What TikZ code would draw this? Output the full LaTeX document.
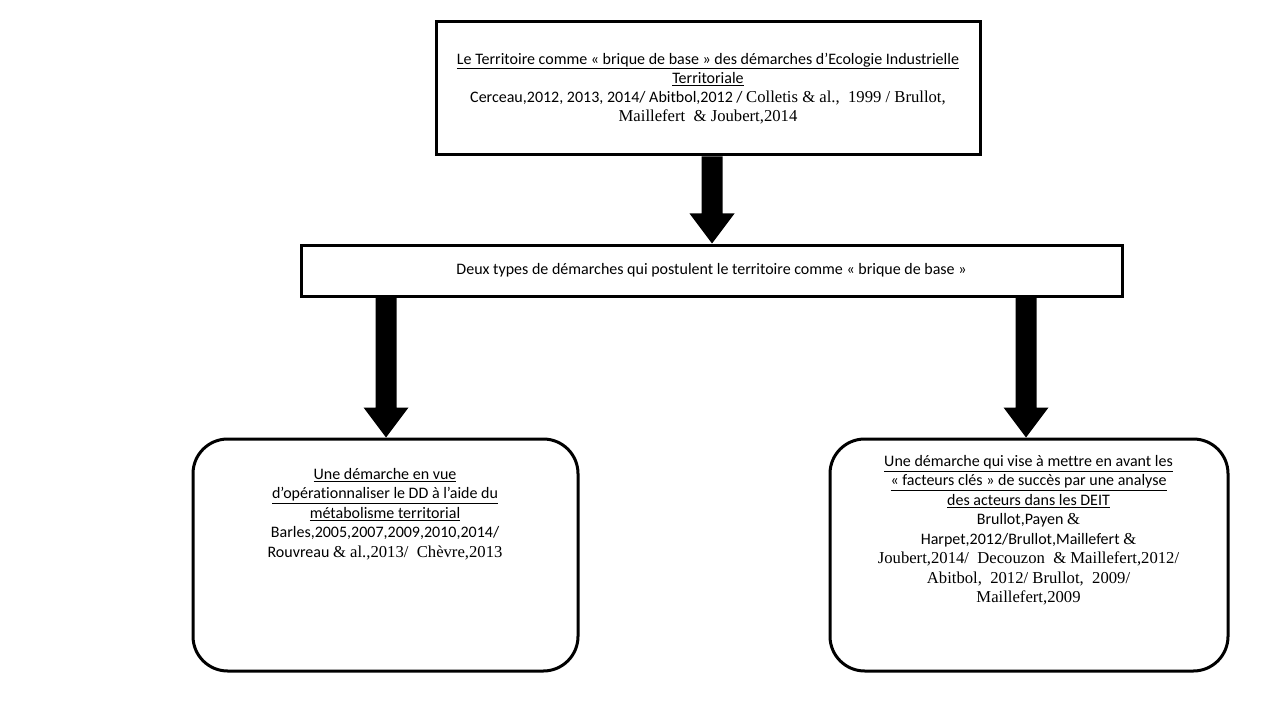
\documentclass[tikz,border=0pt]{standalone}
\usepackage{fontspec}
\setmainfont{Carlito}[Ligatures=NoCommon]
\newfontfamily\tnr{Liberation Serif}
\newcommand\tnrb{\tnr\fontsize{12.5}{14.4}\selectfont}
\usetikzlibrary{calc}
\newcommand\blockarr[2]{%
  \fill[arr] ($(#1)+(-10.5,0)$) -- ($(#1)+(10.5,0)$) -- ($(#2)+(10.5,-30)$) --
    ($(#2)+(22.5,-30)$) -- (#2) -- ($(#2)+(-22.5,-30)$) -- ($(#2)+(-10.5,-30)$) -- cycle;}
\begin{document}
\begin{tikzpicture}[x=0.75pt,y=-0.75pt,
  box/.style={draw=black,line width=2.25pt,inner sep=0pt,align=center,font=\fontsize{12}{14.4}\selectfont},
  rbox/.style={box,rounded corners=26pt},
  txt/.style={align=center,font=\fontsize{12}{14.6}\selectfont,inner sep=0pt},
  arr/.style={fill=black}]
\useasboundingbox (0,0) rectangle (1280,720);
\node[box,minimum width=408pt,minimum height=99.75pt] (top) at (708,88.5)
 {\underline{Le Territoire comme «~brique de base~» des démarches d’Ecologie Industrielle}\\
  \underline{Territoriale}\\
  Cerceau,2012, 2013, 2014/ Abitbol,2012 / {\tnrb Colletis \& al.,\ \ 1999 / Brullot,}\\
  {\tnrb Maillefert\ \ \& Joubert,2014}};
\node[box,minimum width=615.75pt,minimum height=38.25pt] (mid) at (711.5,270.5)
 {Deux types de démarches qui postulent le territoire comme «~brique de base~»};
\node[rbox,minimum width=288.75pt,minimum height=174pt] (lbox) at (385.5,555) {};
\node[rbox,minimum width=298.5pt,minimum height=174pt] (rbox) at (1029,555) {};
\node[txt,anchor=north] (ltxt) at (385,468)
 {\underline{Une démarche en vue}\\
  \underline{d’opérationnaliser le DD à l’aide du}\\
  \underline{métabolisme territorial}\\
  Barles,2005,2007,2009,2010,2014/\\
  Rouvreau {\tnrb\& al.,2013/\ \ Chèvre,2013}};
\node[txt,anchor=north] (rtxt) at (1028.5,455)
 {\underline{Une démarche qui vise à mettre en avant les}\\
  \underline{«~facteurs clés~» de succès par une analyse}\\
  \underline{des acteurs dans les DEIT}\\
  Brullot,Payen {\tnrb\&}\\
  Harpet,2012/Brullot,Maillefert {\tnrb\&}\\
  {\tnrb Joubert,2014/\ \ Decouzon\ \ \& Maillefert,2012/}\\
  {\tnrb Abitbol,\ \ 2012/ Brullot,\ \ 2009/}\\
  {\tnrb Maillefert,2009}};
\coordinate (a1s) at (712,0 |- top.south);
\coordinate (a1e) at (712,0 |- mid.north);
\coordinate (a2s) at (386,0 |- mid.south);
\coordinate (a2e) at (386,0 |- lbox.north);
\coordinate (a3s) at (1026,0 |- mid.south);
\coordinate (a3e) at (1026,0 |- rbox.north);
\blockarr{a1s}{a1e}
\blockarr{a2s}{a2e}
\blockarr{a3s}{a3e}
\end{tikzpicture}
\end{document}
